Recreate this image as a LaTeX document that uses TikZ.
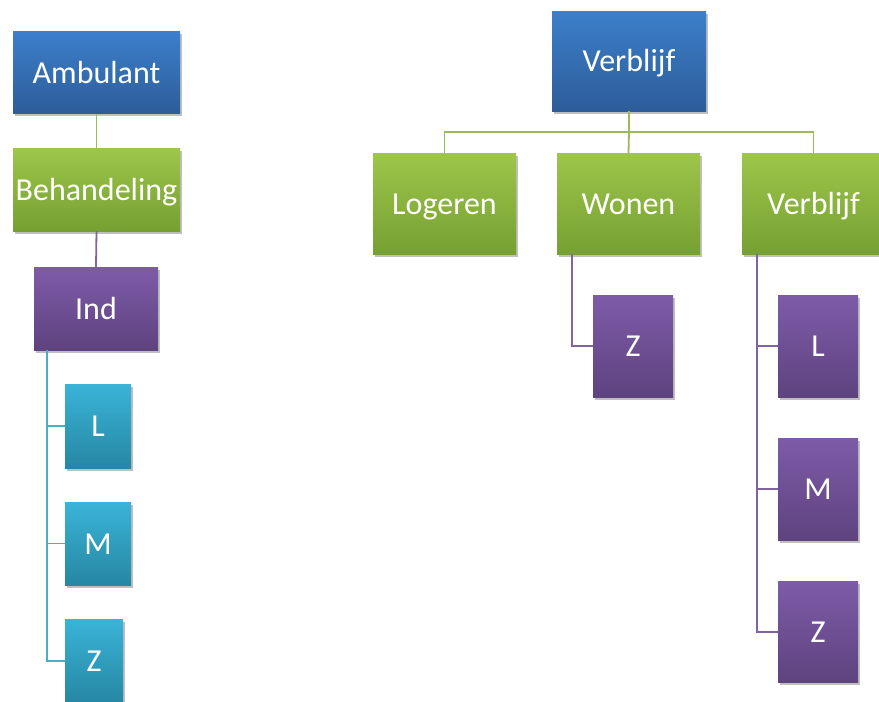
\documentclass[tikz,border=0pt]{standalone}
\usepackage{fontspec}
\setmainfont{Carlito}
\usetikzlibrary{shadows}
\definecolor{blueT}{HTML}{3C7FCB}
\definecolor{blueB}{HTML}{2D5D99}
\definecolor{greenT}{HTML}{9DC64B}
\definecolor{greenB}{HTML}{76A031}
\definecolor{purpT}{HTML}{7E5BA8}
\definecolor{purpB}{HTML}{5E437F}
\definecolor{cyanT}{HTML}{3AB4D8}
\definecolor{cyanB}{HTML}{2687A2}
\definecolor{greenL}{HTML}{9BBB59}
\definecolor{purpL}{HTML}{8064A2}
\definecolor{cyanL}{HTML}{4BACC6}
\tikzset{
  box/.style={rectangle, inner sep=0pt, text=white, font=\fontsize{32}{36}\selectfont,
    text height=21pt, text depth=0pt,
    drop shadow={shadow xshift=1.5pt, shadow yshift=-2.5pt, opacity=0.25, fill=black}},
  bluebox/.style={box, top color=blueT, bottom color=blueB},
  greenbox/.style={box, top color=greenT, bottom color=greenB},
  purpbox/.style={box, top color=purpT, bottom color=purpB},
  cyanbox/.style={box, top color=cyanT, bottom color=cyanB},
  gline/.style={draw=greenL, line width=1.8pt},
  pline/.style={draw=purpL, line width=1.8pt},
  cline/.style={draw=cyanL, line width=1.8pt},
}
\begin{document}
\begin{tikzpicture}[x=1pt,y=-1pt]
\useasboundingbox (0,0) rectangle (879,702);
\fill[white] (0,0) rectangle (879,702);
\clip (0,0) rectangle (879,702);
% left tree nodes
\node[bluebox, minimum width=167pt, minimum height=82pt] (amb) at (96.5,72.5) {Ambulant};
\node[greenbox, minimum width=167pt, minimum height=83pt] (beh) at (96.5,189.5) {Behandeling};
\node[purpbox, minimum width=124pt, minimum height=83pt] (ind) at (96,308.5) {Ind};
\node[cyanbox, minimum width=66pt, minimum height=84pt] (cl) at (98,426) {L};
\node[cyanbox, minimum width=66pt, minimum height=83pt] (cm) at (98,543.5) {M};
\node[cyanbox, minimum width=58pt, minimum height=84pt] (cz) at (94,661) {Z};
% right tree nodes
\node[bluebox, minimum width=154pt, minimum height=100pt] (vt) at (629,61) {Verblijf};
\node[greenbox, minimum width=143pt, minimum height=101pt] (log) at (444.5,203.5) {Logeren};
\node[greenbox, minimum width=143pt, minimum height=101pt] (won) at (628.5,203.5) {Wonen};
\node[greenbox, minimum width=143pt, minimum height=101pt] (v2) at (813.5,203.5) {Verblijf};
\node[purpbox, minimum width=80pt, minimum height=102pt] (wz) at (633,346) {Z};
\node[purpbox, minimum width=80pt, minimum height=102pt] (vl) at (818,346) {L};
\node[purpbox, minimum width=80pt, minimum height=102pt] (vm) at (818,489) {M};
\node[purpbox, minimum width=80pt, minimum height=101pt] (vz) at (818,632) {Z};
% connectors left
\draw[gline] (amb.south) -- (beh.north);
\draw[pline] (beh.south) -- (ind.north);
\coordinate (ic) at ([xshift=13pt]ind.south west);
\draw[cline] (ic) |- (cl.west);
\draw[cline] (ic) |- (cm.west);
\draw[cline] (ic) |- (cz.west);
% connectors right
\coordinate (bar) at (629,132);
\draw[gline] (vt.south) -- (bar);
\draw[gline] (log.north) |- (bar) -| (v2.north);
\draw[gline] (bar) -- (won.north);
\coordinate (wc) at ([xshift=15pt]won.south west);
\draw[pline] (wc) |- (wz.west);
\coordinate (vc) at ([xshift=15pt]v2.south west);
\draw[pline] (vc) |- (vl.west);
\draw[pline] (vc) |- (vm.west);
\draw[pline] (vc) |- (vz.west);
\end{tikzpicture}
\end{document}
